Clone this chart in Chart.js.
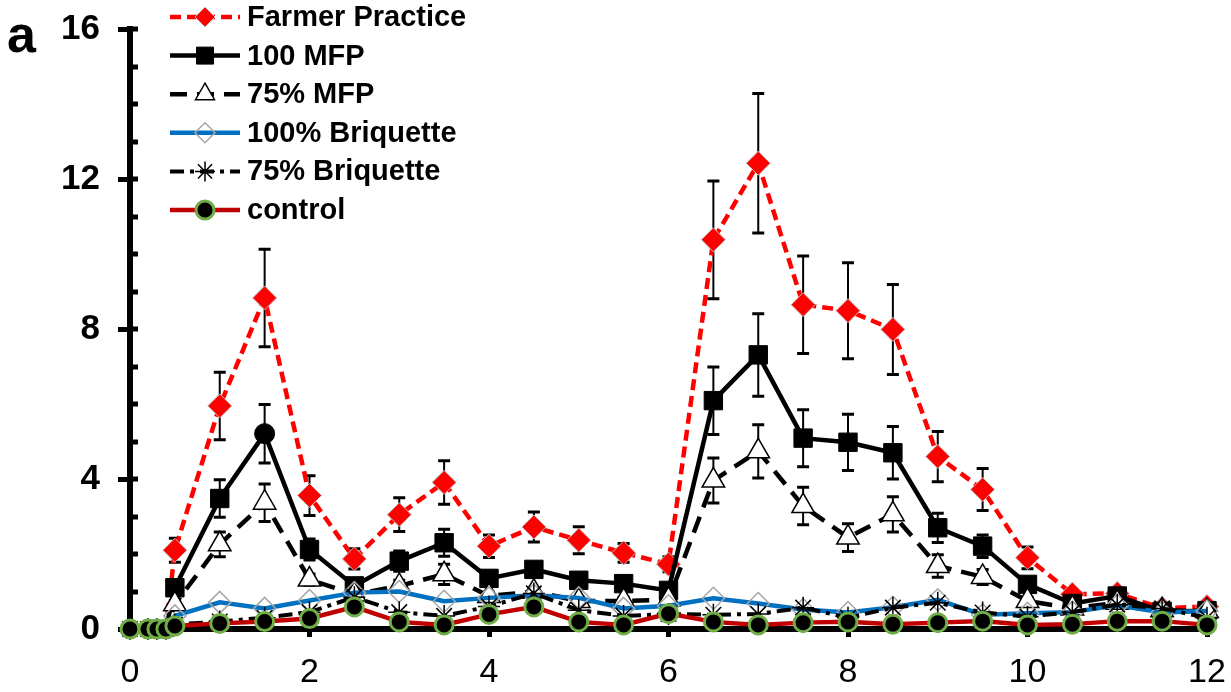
<!DOCTYPE html>
<html lang="en">
<head>
<meta charset="UTF-8">
<title>Figure a</title>
<script src="https://cdn.jsdelivr.net/npm/chart.js"></script>
<style>
    body {
        margin: 0;
        background: #fff;
        font-family: "Liberation Sans", Arial, sans-serif;
    }

    .wrap {
        position: relative;
        width: 1231px;
        height: 692px;
    }

    .panel {
        position: absolute;
        left: 7px;
        top: 8px;
        font-size: 52px;
        font-weight: bold;
        line-height: 52px;
    }

    .legend-row {
        position: absolute;
        left: 247px;
        font-size: 29px;
        font-weight: bold;
        line-height: 29px;
        white-space: nowrap;
    }
</style>
</head>
<body>
<div class="wrap">
    <canvas id="chart" width="1231" height="692"></canvas>
    <div class="panel">a</div>
    <div id="legend"></div>
</div>

<script>
    // sampling times (x) and tick labels
    const days = [0, 0.2, 0.3, 0.4, 0.5, 1, 1.5, 2, 2.5, 3, 3.5, 4, 4.5, 5, 5.5, 6, 6.5, 7, 7.5, 8, 8.5, 9, 9.5, 10, 10.5, 11, 11.5, 12];
    const xTickLabels = [0, 2, 4, 6, 8, 10, 12];
    const yTickLabels = [0, 4, 8, 12, 16];

    const seriesNames = ["Farmer Practice", "100 MFP", "75% MFP", "100% Briquette", "75% Briquette", "control"];

    const farmerPractice = [0, 0, 0, 0, 2.1, 5.95, 8.83, 3.56, 1.87, 3.05, 3.91, 2.21, 2.72, 2.37, 2.03, 1.73, 10.38, 12.42, 8.65, 8.49, 7.99, 4.6, 3.72, 1.9, 0.93, 0.95, 0.55, 0.6];
    const farmerPracticeErr = [0, 0, 0, 0, 0.32, 0.9, 1.3, 0.53, 0.27, 0.45, 0.58, 0.3, 0.4, 0.36, 0.25, 0.2, 1.57, 1.86, 1.3, 1.28, 1.2, 0.67, 0.56, 0.29, 0, 0, 0, 0];

    const mfp100 = [0, 0, 0, 0, 1.1, 3.48, 5.21, 2.12, 1.15, 1.81, 2.3, 1.35, 1.59, 1.3, 1.21, 1.03, 6.09, 7.31, 5.09, 4.98, 4.7, 2.7, 2.21, 1.19, 0.68, 0.88, 0.47, 0.49];
    const mfp100Err = [0, 0, 0, 0, 0.1, 0.5, 0.78, 0.28, 0.12, 0.27, 0.36, 0.12, 0.12, 0.1, 0.1, 0.1, 0.9, 1.1, 0.76, 0.75, 0.7, 0.39, 0.3, 0.15, 0, 0.1, 0, 0];

    const mfp75 = [0, 0, 0, 0, 0.66, 2.26, 3.37, 1.32, 0.92, 1.15, 1.46, 0.88, 1.0, 0.75, 0.75, 0.78, 3.96, 4.74, 3.28, 2.44, 3.06, 1.68, 1.39, 0.75, 0.55, 0.7, 0.5, 0.48];
    const mfp75Err = [0, 0, 0, 0, 0.1, 0.33, 0.5, 0.15, 0.1, 0.15, 0.27, 0.1, 0.1, 0.1, 0.1, 0.1, 0.6, 0.71, 0.5, 0.37, 0.47, 0.3, 0.2, 0.1, 0, 0, 0, 0];

    const briq100 = [0, 0, 0, 0, 0.35, 0.71, 0.55, 0.76, 0.97, 1.0, 0.74, 0.83, 0.9, 0.83, 0.55, 0.62, 0.82, 0.68, 0.52, 0.44, 0.58, 0.78, 0.38, 0.42, 0.45, 0.63, 0.44, 0.48];
    const briq75 = [0, 0, 0, 0, 0.12, 0.2, 0.3, 0.45, 0.85, 0.45, 0.35, 0.6, 0.95, 0.5, 0.35, 0.4, 0.38, 0.4, 0.57, 0.3, 0.57, 0.7, 0.44, 0.33, 0.45, 0.65, 0.55, 0.3];
    const control = [0, 0, 0, 0, 0.08, 0.15, 0.2, 0.28, 0.59, 0.19, 0.11, 0.39, 0.59, 0.19, 0.11, 0.41, 0.19, 0.11, 0.17, 0.19, 0.13, 0.17, 0.21, 0.11, 0.13, 0.21, 0.21, 0.11];

    const toPoints = vals => vals.map((v, i) => ({ x: days[i], y: v }));
    // hide markers of the zero start values (they sit behind the control circles)
    const sizeOrHide = r => ctx => (ctx.raw && ctx.raw.y === 0) ? 0 : r;

    // fixed axis box sizes so the plot area lands where the original one is
    const fixBox = size => s => {
        if (s.isHorizontal()) s.height = size; else s.width = size;
        s.paddingTop = 0;
        s.paddingBottom = 0;
        s.paddingLeft = 0;
        s.paddingRight = 0;
    };

    Chart.defaults.font.family = '"Liberation Sans", Arial, sans-serif';

    // error bars, drawn just before each series so its markers cover them
    const errorBars = {
        id: "errorBars",
        beforeDatasetDraw(chart, args) {
            const ds = chart.data.datasets[args.index];
            if (!ds.errors) return;
            const ctx = chart.ctx;
            const xs = chart.scales.x, ys = chart.scales.y;
            ctx.save();
            ctx.strokeStyle = "#000";
            ds.data.forEach((p, i) => {
                const e = ds.errors[i];
                if (!e) return;
                const x = xs.getPixelForValue(p.x);
                const y1 = ys.getPixelForValue(p.y + e);
                const y2 = ys.getPixelForValue(p.y - e);
                ctx.lineWidth = 2;
                ctx.beginPath();
                ctx.moveTo(x, y1);
                ctx.lineTo(x, y2);
                ctx.stroke();
                ctx.lineWidth = 3;
                ctx.beginPath();
                ctx.moveTo(x - 6, y1); ctx.lineTo(x + 6, y1);
                ctx.moveTo(x - 6, y2); ctx.lineTo(x + 6, y2);
                ctx.stroke();
            });
            ctx.restore();
        }
    };

    // short inward tick stubs on the y axis
    const innerTicks = {
        id: "innerTicks",
        beforeDatasetsDraw(chart) {
            const ctx = chart.ctx;
            const ys = chart.scales.y;
            const left = chart.chartArea.left;
            ctx.save();
            ctx.strokeStyle = "#000";
            ctx.lineWidth = 5;
            for (let v = 0; v <= 16; v++) {
                const y = Math.round(ys.getPixelForValue(v));
                ctx.beginPath();
                ctx.moveTo(left, y);
                ctx.lineTo(left + 8, y);
                ctx.stroke();
            }
            ctx.restore();
        }
    };

    // legend swatches (line + marker) next to the html labels
    const legendSwatches = {
        id: "legendSwatches",
        afterDraw(chart) {
            const ctx = chart.ctx;
            chart.data.datasets.forEach((ds, i) => {
                const y = 17 + i * 38.6;
                ctx.save();
                ctx.strokeStyle = ds.borderColor;
                ctx.lineWidth = ds.borderWidth;
                ctx.setLineDash(ds.borderDash || []);
                ctx.beginPath();
                ctx.moveTo(170, y);
                ctx.lineTo(240, y);
                ctx.stroke();
                ctx.setLineDash([]);
                ctx.fillStyle = ds.pointBackgroundColor;
                ctx.strokeStyle = ds.pointBorderColor;
                ctx.lineWidth = ds.pointBorderWidth;
                Chart.helpers.drawPoint(ctx, {
                    pointStyle: ds.legendStyle,
                    radius: ds.legendRadius,
                    borderWidth: ds.pointBorderWidth,
                    rotation: 0
                }, 205, y);
                ctx.restore();
            });
        }
    };

    const datasets = [
        {
            label: seriesNames[0],
            data: toPoints(farmerPractice),
            errors: farmerPracticeErr,
            borderColor: "#FF0000",
            borderWidth: 4.5,
            borderDash: [11, 6],
            pointStyle: "rectRot",
            pointRadius: sizeOrHide(12),
            pointBackgroundColor: "#FF0000",
            pointBorderColor: "#BFBFBF",
            pointBorderWidth: 1,
            legendStyle: "rectRot",
            legendRadius: 10,
            order: 6
        },
        {
            label: seriesNames[1],
            data: toPoints(mfp100),
            errors: mfp100Err,
            borderColor: "#000",
            borderWidth: 4.5,
            pointStyle: ctx => ctx.dataIndex === 6 ? "circle" : "rect",
            pointRadius: ctx => (ctx.raw && ctx.raw.y === 0) ? 0 : (ctx.dataIndex === 6 ? 10 : 13),
            pointBackgroundColor: "#000",
            pointBorderColor: "#000",
            pointBorderWidth: 1,
            legendStyle: "rect",
            legendRadius: 12,
            order: 5
        },
        {
            label: seriesNames[2],
            data: toPoints(mfp75),
            errors: mfp75Err,
            borderColor: "#000",
            borderWidth: 4.5,
            borderDash: [17, 10],
            pointStyle: "triangle",
            pointRadius: sizeOrHide(13),
            pointBackgroundColor: "#fff",
            pointBorderColor: "#000",
            pointBorderWidth: 1.5,
            legendStyle: "triangle",
            legendRadius: 11,
            order: 4
        },
        {
            label: seriesNames[3],
            data: toPoints(briq100),
            borderColor: "#0070C0",
            borderWidth: 4.5,
            pointStyle: "rectRot",
            pointRadius: sizeOrHide(11),
            pointBackgroundColor: "rgba(255,255,255,0)",
            pointBorderColor: "#A6A6A6",
            pointBorderWidth: 1.5,
            legendStyle: "rectRot",
            legendRadius: 10,
            order: 3
        },
        {
            label: seriesNames[4],
            data: toPoints(briq75),
            borderColor: "#000",
            borderWidth: 4,
            borderDash: [14, 6, 4, 6],
            pointStyle: "star",
            pointRadius: 11,
            pointBackgroundColor: "#000",
            pointBorderColor: "#000",
            pointBorderWidth: 1.5,
            legendStyle: "star",
            legendRadius: 10,
            order: 2
        },
        {
            label: seriesNames[5],
            data: toPoints(control),
            borderColor: "#C00000",
            borderWidth: 4.5,
            pointStyle: "circle",
            pointRadius: 9,
            pointBackgroundColor: "#000",
            pointBorderColor: "#70AD47",
            pointBorderWidth: 3,
            legendStyle: "circle",
            legendRadius: 9,
            order: 1
        }
    ];
    datasets.forEach(ds => { ds.tension = 0; ds.clip = false; ds.fill = false; });

    new Chart(document.getElementById("chart").getContext("2d"), {
        type: "line",
        data: { datasets: datasets },
        options: {
            responsive: false,
            animation: false,
            layout: { padding: { left: 0, top: 29, right: 24, bottom: 0 } },
            plugins: {
                legend: { display: false },
                tooltip: { enabled: false }
            },
            scales: {
                x: {
                    type: "linear",
                    min: 0,
                    max: 12,
                    afterFit: fixBox(63),
                    ticks: {
                        stepSize: 2,
                        color: "#000",
                        padding: 15,
                        font: { size: 34 },
                        callback: v => xTickLabels.includes(v) ? v : ""
                    },
                    grid: { drawOnChartArea: false, tickLength: 8, tickWidth: 5, tickColor: "#000" },
                    border: { color: "#000", width: 6 }
                },
                y: {
                    min: 0,
                    max: 16,
                    afterFit: fixBox(130),
                    ticks: {
                        stepSize: 1,
                        autoSkip: false,
                        color: "#000",
                        padding: 18,
                        font: { size: 35, weight: "bold" },
                        callback: v => yTickLabels.includes(v) ? v : ""
                    },
                    grid: {
                        drawOnChartArea: false,
                        tickLength: 12,
                        tickWidth: 5,
                        tickColor: ctx => (ctx.tick && yTickLabels.includes(ctx.tick.value)) ? "#000" : "rgba(0,0,0,0)"
                    },
                    border: { color: "#000", width: 6 }
                }
            }
        },
        plugins: [errorBars, innerTicks, legendSwatches]
    });

    // html legend labels
    const legendBox = document.getElementById("legend");
    seriesNames.forEach((name, i) => {
        const row = document.createElement("div");
        row.className = "legend-row";
        row.style.top = (2 + i * 38.6) + "px";
        row.textContent = name;
        legendBox.appendChild(row);
    });
</script>
</body>
</html>
